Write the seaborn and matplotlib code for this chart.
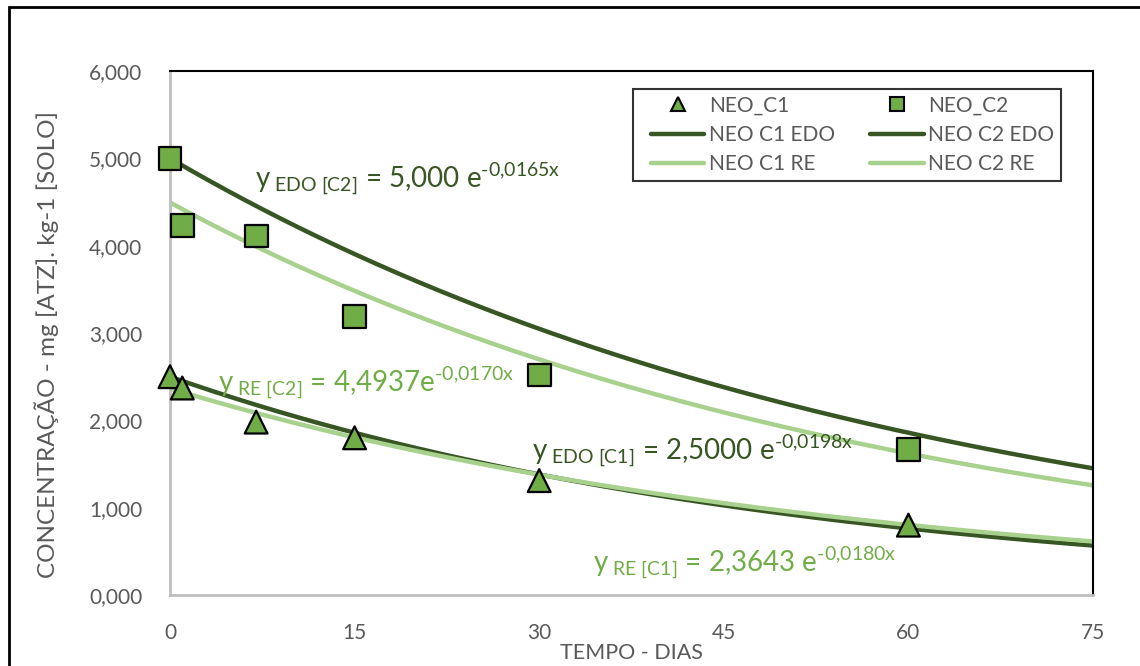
import numpy as np
import pandas as pd
import matplotlib
matplotlib.use("Agg")
import matplotlib.pyplot as plt
from matplotlib.lines import Line2D
from matplotlib.patches import Rectangle
from matplotlib.legend_handler import HandlerLine2D
from matplotlib.ticker import FuncFormatter, MultipleLocator
import seaborn as sns

# Measured concentrations over time
days = [0, 1, 7, 15, 30, 60]
neo_c1 = [2.50, 2.37, 1.98, 1.80, 1.31, 0.80]
neo_c2 = [5.00, 4.23, 4.11, 3.19, 2.52, 1.67]

# Exponential decay models: y = a * exp(-k x)
edo_c1 = (2.5000, 0.0198)
edo_c2 = (5.000, 0.0165)
re_c1 = (2.3643, 0.0180)
re_c2 = (4.4937, 0.0170)

x_ticks = [0, 15, 30, 45, 60, 75]

C_MARK = "#70AD47"
C_EDO = "#375623"
C_RE = "#A9D18E"
C_TXT = "#595959"

sns.set_theme(style="white")
plt.rcParams["font.family"] = ["Lato", "DejaVu Sans"]
plt.rcParams["mathtext.fontset"] = "custom"
plt.rcParams["mathtext.rm"] = "Lato"
plt.rcParams["mathtext.it"] = "Lato:italic"
plt.rcParams["mathtext.bf"] = "Lato:bold"


class PaddedHandler(HandlerLine2D):
    """Legend line that leaves a gap on its left side."""

    def get_xdata(self, legend, xdescent, ydescent, width, height, fontsize):
        pad = 0.55 * fontsize
        x0 = -xdescent + pad
        x1 = -xdescent + width
        return [x0, x1], [0.5 * (x0 + x1)]


fig = plt.figure(figsize=(11.4, 6.66), dpi=100)
ax = fig.add_axes([170 / 1140, 1 - 595 / 666, (1093 - 170) / 1140, (595 - 71) / 666])

xs = np.linspace(0, 75, 300)
curves = []
for name, (a, k) in [("NEO C1 EDO", edo_c1), ("NEO C2 EDO", edo_c2),
                     ("NEO C1 RE", re_c1), ("NEO C2 RE", re_c2)]:
    curves.append(pd.DataFrame({"x": xs, "y": a * np.exp(-k * xs), "serie": name}))
curves = pd.concat(curves, ignore_index=True)

palette = {"NEO C1 EDO": C_EDO, "NEO C2 EDO": C_EDO,
           "NEO C1 RE": C_RE, "NEO C2 RE": C_RE}
sns.lineplot(data=curves, x="x", y="y", hue="serie", palette=palette,
             linewidth=3.2, legend=False, ax=ax, zorder=2)

pts = pd.DataFrame({"dia": days * 2, "conc": neo_c1 + neo_c2,
                    "serie": ["NEO_C1"] * len(days) + ["NEO_C2"] * len(days)})
sns.scatterplot(data=pts, x="dia", y="conc", style="serie",
                markers={"NEO_C1": "^", "NEO_C2": "s"},
                color=C_MARK, edgecolor="black", linewidth=1.6, s=270,
                legend=False, ax=ax, zorder=5, clip_on=False)

ax.set_xlim(0, 75)
ax.set_ylim(0, 6)
ax.set_xticks(x_ticks)
ax.yaxis.set_major_locator(MultipleLocator(1))
ax.yaxis.set_major_formatter(FuncFormatter(lambda v, p: f"{v:.3f}".replace(".", ",")))
ax.tick_params(axis="both", length=0, labelsize=15, labelcolor=C_TXT)
ax.tick_params(axis="y", pad=20)
ax.tick_params(axis="x", pad=20)

for side in ("left", "bottom"):
    ax.spines[side].set_color("#BFBFBF")
    ax.spines[side].set_linewidth(2)
for side in ("top", "right"):
    ax.spines[side].set_color("black")
    ax.spines[side].set_linewidth(1.5)

ax.set_xlabel("TEMPO - DIAS", fontsize=15.5, color=C_TXT)
ax.xaxis.set_label_coords(0.5, -(653 - 595) / 524)
ax.xaxis.label.set_va("center")
ax.set_ylabel("CONCENTRAÇÃO - mg [ATZ]. kg-1 [SOLO]", fontsize=17.5, color=C_TXT)
ax.yaxis.set_label_coords(-(170 - 47) / 923, (595 - 345) / 524)
ax.yaxis.label.set_va("center")

eq_kw = dict(fontsize=20, ha="left", va="center")
ax.text(6.9, 4.76, r"y$_{\text{ EDO [C2]}}$ = 5,000 e$^{\text{-0,0165x}}$", color=C_EDO, **eq_kw)
ax.text(3.9, 2.42, r"y$_{\text{ RE [C2]}}$ = 4,4937e$^{\text{-0,0170x}}$", color=C_MARK, **eq_kw)
ax.text(29.4, 1.64, r"y$_{\text{ EDO [C1]}}$ = 2,5000 e$^{\text{-0,0198x}}$", color=C_EDO, **eq_kw)
ax.text(34.4, 0.36, r"y$_{\text{ RE [C1]}}$ = 2,3643 e$^{\text{-0,0180x}}$", color=C_MARK, **eq_kw)

mk = dict(linestyle="none", markerfacecolor=C_MARK, markeredgecolor="black",
          markeredgewidth=1.5, markersize=9.5)
handles = [
    Line2D([], [], marker="^", label="NEO_C1", **mk),
    Line2D([], [], color=C_EDO, lw=3.2, label="NEO C1 EDO"),
    Line2D([], [], color=C_RE, lw=3.2, label="NEO C1 RE"),
    Line2D([], [], marker="s", label="NEO_C2", **mk),
    Line2D([], [], color=C_EDO, lw=3.2, label="NEO C2 EDO"),
    Line2D([], [], color=C_RE, lw=3.2, label="NEO C2 RE"),
]
leg = ax.legend(handles=handles, ncol=2, loc="upper left",
                bbox_to_anchor=((633 - 170) / 923, 1 - (89 - 71) / 524),
                fontsize=15, frameon=True, fancybox=False, handlelength=3.1,
                handletextpad=0.22, columnspacing=1.15, labelspacing=0.45,
                borderpad=0.32, borderaxespad=0,
                handler_map={Line2D: PaddedHandler()})
leg.get_frame().set_edgecolor("black")
leg.get_frame().set_linewidth(1.5)
for t in leg.get_texts():
    t.set_color(C_TXT)

fig.patches.append(Rectangle((9 / 1140, -0.2), 1.5, 1.2 - 7 / 666,
                             transform=fig.transFigure, fill=False,
                             edgecolor="black", linewidth=2))

fig.savefig("out.png", dpi=100)
